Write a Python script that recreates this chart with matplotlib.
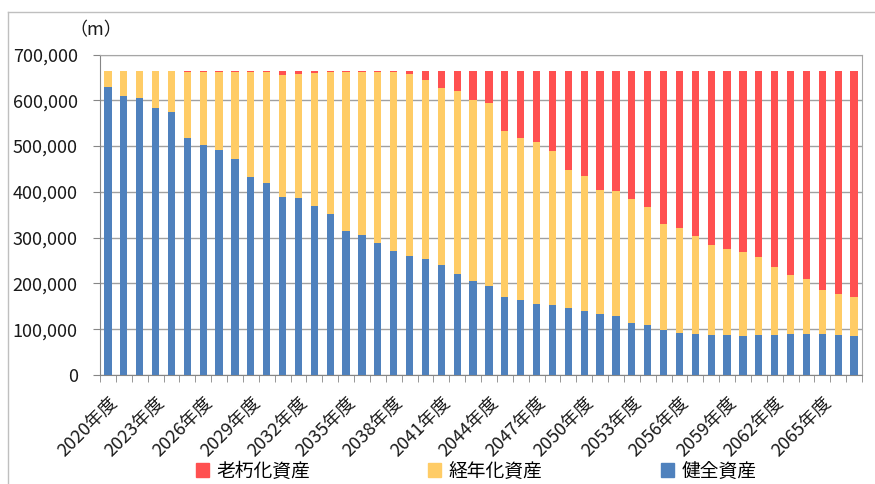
import matplotlib
matplotlib.use("Agg")
import matplotlib.pyplot as plt
import matplotlib.transforms as mtransforms
from matplotlib.lines import Line2D
from matplotlib.patches import Patch
import numpy as np

plt.rcParams['font.family'] = ['Noto Sans CJK JP', 'DejaVu Sans']

years = list(range(2020, 2068))

# 健全資産 (m)
sound = [629000, 610000, 604000, 583000, 574000, 518000, 502000, 491000,
         472000, 432000, 419000, 389000, 386000, 370000, 352000, 314000,
         306000, 288000, 271000, 260000, 253000, 241000, 221000, 205000,
         195000, 170000, 163000, 156000, 152000, 147000, 139000, 133000,
         129000, 114000, 110000, 98000, 91000, 90000, 88000, 88000,
         86000, 88000, 88000, 89000, 89000, 90000, 88000, 86000]

# 経年化資産 (m)
aging = [34000, 53000, 59000, 80000, 89000, 144000, 160000, 171000,
         190000, 229000, 243000, 267000, 271000, 290000, 310000, 348000,
         356000, 374000, 390000, 398000, 392000, 386000, 400000, 396000,
         398000, 364000, 355000, 352000, 337000, 301000, 296000, 271000,
         273000, 270000, 257000, 232000, 229000, 213000, 197000, 187000,
         182000, 169000, 147000, 129000, 120000, 95000, 90000, 84000]

# 老朽化資産 (m)
deteriorated = [0, 0, 0, 0, 0, 1000, 1000, 1000,
                1000, 2000, 1000, 7000, 6000, 3000, 1000, 1000,
                1000, 1000, 2000, 5000, 18000, 36000, 42000, 62000,
                70000, 129000, 145000, 155000, 174000, 215000, 228000, 259000,
                261000, 279000, 296000, 333000, 343000, 360000, 378000, 388000,
                395000, 406000, 428000, 445000, 454000, 478000, 485000, 493000]

label_years = years[::3]

c_red = '#FF5050'
c_yel = '#FFCC66'
c_blu = '#4F81BD'

fig = plt.figure(figsize=(8.75, 4.84), dpi=100)
ax = fig.add_axes([100/875, 1-375/484, 762/875, 320.5/484])

x = np.arange(len(years))
w = 0.46
s = np.array(sound)
a = np.array(aging)
d = np.array(deteriorated)
ax.bar(x, s, width=w, color=c_blu, zorder=3)
ax.bar(x, a, width=w, bottom=s, color=c_yel, zorder=3)
ax.bar(x, d, width=w, bottom=s + a, color=c_red, zorder=3)

ax.set_xlim(-0.5, len(years) - 0.5)
ax.set_ylim(0, 700000)
ax.set_yticks(np.arange(0, 700001, 100000))
ax.set_yticklabels([f"{v:,}" for v in range(0, 700001, 100000)], fontsize=13, color='#1a1a1a')
ax.yaxis.grid(True, color='#A0A0A0', linewidth=1.0, zorder=0)

ax.set_xticks([years.index(yv) for yv in label_years])
ax.set_xticklabels([f"{yv}年度" for yv in label_years], rotation=45, ha='right',
                   va='top', rotation_mode='anchor', fontsize=13, color='#1a1a1a')
shift = mtransforms.ScaledTranslation(3/100, 0, fig.dpi_scale_trans)
for lbl in ax.get_xticklabels():
    lbl.set_transform(lbl.get_transform() + shift)
ax.set_xticks(np.arange(-0.5, len(years), 1.0), minor=True)
ax.tick_params(axis='x', which='major', length=0, pad=13)
ax.tick_params(axis='x', which='minor', length=5, color='#868686', direction='out')
ax.tick_params(axis='y', length=5, color='#868686', direction='out', pad=11)

for side in ['left', 'bottom']:
    ax.spines[side].set_color('#868686')
for side in ['top', 'right']:
    ax.spines[side].set_color('#A6A6A6')

fig.text(96/875, 1-30/484, '（m）', fontsize=13, ha='center', va='center', color='#1a1a1a')

handles = [Patch(color=c_red), Patch(color=c_yel), Patch(color=c_blu)]
leg = fig.legend(handles, ['老朽化資産', '経年化資産', '健全資産'], ncol=3,
                 loc='center', bbox_to_anchor=(476/875, 1-471/484), frameon=False,
                 fontsize=13.5, handlelength=0.7, handleheight=0.7, handletextpad=0.4,
                 columnspacing=6.3)

# outer frame (top and left edges)
fig.add_artist(Line2D([8/875, 8/875], [0, 1-12/484], transform=fig.transFigure,
                      color='#BFBFBF', linewidth=1))
fig.add_artist(Line2D([8/875, 1], [1-12/484, 1-12/484], transform=fig.transFigure,
                      color='#BFBFBF', linewidth=1))

fig.savefig('out.png', dpi=100, facecolor='white')
